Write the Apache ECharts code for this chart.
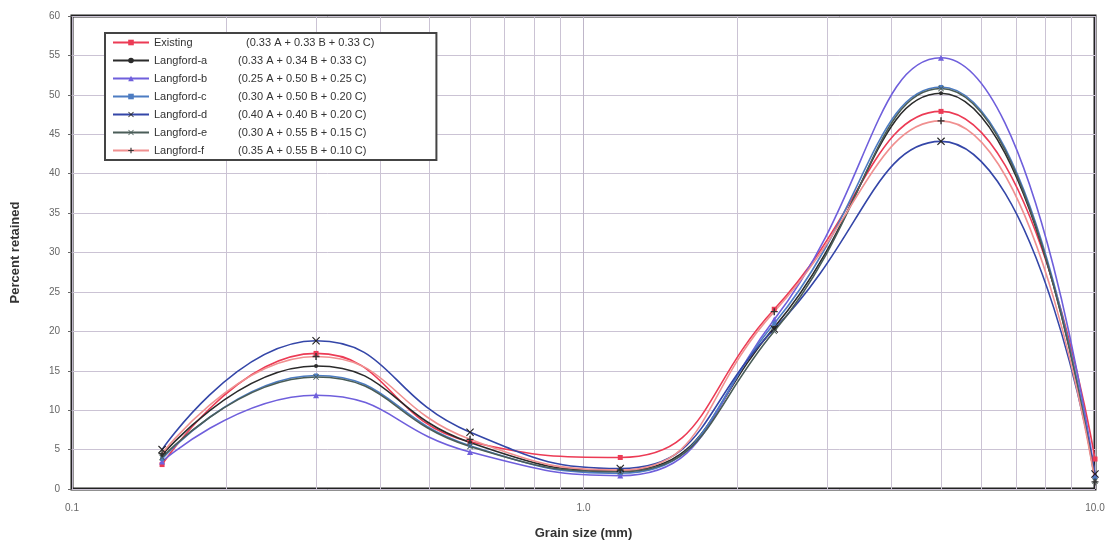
<!DOCTYPE html>
<html>
<head>
<meta charset="utf-8">
<script src="https://cdn.jsdelivr.net/npm/echarts@6/dist/echarts.min.js"></script>
<style>
  html, body { margin: 0; padding: 0; background: #fff; }
  #chart { width: 1109px; height: 546px; }
</style>
</head>
<body>
<div id="chart"></div>
<script>
// sieve sizes (mm) and percent retained for each blend
var sizes = [0.15, 0.3, 0.6, 1.18, 2.36, 5, 10];
var existing  = [3.1, 17.2, 6.0, 4.0, 22.8, 47.9, 3.8];
var langfordA = [4.3, 15.6, 5.9, 2.3, 20.5, 50.2, 1.5];
var langfordB = [3.5, 11.9, 4.7, 1.7, 21.5, 54.7, 1.8];
var langfordC = [3.8, 14.4, 5.5, 2.0, 21.0, 51.0, 1.4];
var langfordD = [5.0, 18.8, 7.2, 2.6, 20.3, 44.1, 1.9];
var langfordE = [4.0, 14.2, 5.4, 2.2, 20.0, 50.8, 1.0];
var langfordF = [4.5, 16.8, 6.3, 2.4, 22.5, 46.7, 0.9];
var mixes = [
    '(0.33 A + 0.33 B + 0.33 C)',
    '(0.33 A + 0.34 B + 0.33 C)',
    '(0.25 A + 0.50 B + 0.25 C)',
    '(0.30 A + 0.50 B + 0.20 C)',
    '(0.40 A + 0.40 B + 0.20 C)',
    '(0.30 A + 0.55 B + 0.15 C)',
    '(0.35 A + 0.55 B + 0.10 C)'
];
var names = ['Existing', 'Langford-a', 'Langford-b', 'Langford-c', 'Langford-d', 'Langford-e', 'Langford-f'];
var minorX = [0.2, 0.3, 0.4, 0.5, 0.6, 0.7, 0.8, 0.9, 2, 3, 4, 5, 6, 7, 8, 9];

var font = 'Liberation Sans, Arial, sans-serif';
var crossPath = 'path://M0,1L1,0L5,4L9,0L10,1L6,5L10,9L9,10L5,6L1,10L0,9L4,5Z';
var plusPath = 'path://M4,0H6V4H10V6H6V10H4V6H0V4H4Z';

var looks = [
    {color: '#ec3b55', symbol: 'rect', size: 5},
    {color: '#2b2b2b', symbol: 'circle', size: 4},
    {color: '#6f5fdc', symbol: 'triangle', size: 6},
    {color: '#4d7cc2', symbol: 'rect', size: 4},
    {color: '#3446a8', symbol: crossPath, size: 8, symbolColor: '#222'},
    {color: '#4a5d58', symbol: crossPath, size: 6},
    {color: '#f09090', symbol: plusPath, size: 7, symbolColor: '#333'}
];
var values = [existing, langfordA, langfordB, langfordC, langfordD, langfordE, langfordF];

var mixByName = {};
var series = [];
for (var i = 0; i < names.length; i++) {
    mixByName[names[i]] = mixes[i];
    var pts = [];
    for (var j = 0; j < sizes.length; j++) {
        pts.push([sizes[j], values[i][j]]);
    }
    series.push({
        name: names[i],
        type: 'line',
        data: pts,
        smooth: 0.5,
        symbol: looks[i].symbol,
        symbolSize: looks[i].size,
        showSymbol: true,
        lineStyle: {color: looks[i].color, width: 1.6},
        itemStyle: {color: looks[i].symbolColor || looks[i].color},
        z: 3
    });
}
// minor log grid lines
var minorData = [];
for (var k = 0; k < minorX.length; k++) {
    minorData.push({xAxis: minorX[k]});
}
series[0].markLine = {
    silent: true,
    symbol: 'none',
    label: {show: false},
    lineStyle: {color: '#cbc3d4', type: 'solid', width: 1},
    data: minorData,
    z: 1
};

var myChart = echarts.init(document.getElementById('chart'));
myChart.setOption({
    animation: false,
    backgroundColor: '#fff',
    grid: {
        left: 72, right: 14, top: 16, bottom: 57,
        show: true, borderColor: '#222', borderWidth: 3, backgroundColor: 'transparent'
    },
    legend: {
        orient: 'vertical',
        left: 105, top: 33,
        data: names,
        backgroundColor: '#fff',
        borderColor: '#444',
        borderWidth: 2,
        padding: [4, 62, 4, 7],
        itemWidth: 36, itemHeight: 7, itemGap: 7,
        formatter: function (name) {
            var key = name === 'Existing' ? 'w' : 'n';
            return '{' + key + '|' + name + '}{f|' + mixByName[name] + '}';
        },
        textStyle: {
            color: '#333', fontFamily: font, fontSize: 11,
            rich: {
                n: {width: 84, fontSize: 11, fontFamily: font, color: '#333'},
                w: {width: 92, fontSize: 11, fontFamily: font, color: '#333'},
                f: {fontSize: 11, fontFamily: font, color: '#333'}
            }
        },
        z: 10
    },
    xAxis: {
        type: 'log',
        logBase: 10,
        min: 0.1,
        max: 10,
        name: 'Grain size (mm)',
        nameLocation: 'middle',
        nameGap: 38,
        nameTextStyle: {fontFamily: font, fontSize: 13, fontWeight: 'bold', color: '#333'},
        axisLine: {show: false},
        axisTick: {show: false},
        axisLabel: {
            color: '#666', fontFamily: font, fontSize: 10, margin: 14,
            formatter: function (v) { return v.toFixed(1); }
        },
        splitLine: {show: true, lineStyle: {color: '#bfb6c9', width: 1}}
    },
    yAxis: {
        type: 'value',
        min: 0,
        max: 60,
        interval: 5,
        name: 'Percent retained',
        nameLocation: 'middle',
        nameGap: 50,
        nameRotate: 90,
        nameTextStyle: {fontFamily: font, fontSize: 13, fontWeight: 'bold', color: '#333'},
        axisLine: {show: false},
        axisTick: {show: true, length: 4, lineStyle: {color: '#666'}},
        axisLabel: {color: '#666', fontFamily: font, fontSize: 10, margin: 12},
        splitLine: {show: true, lineStyle: {color: '#cbc3d4', width: 1}}
    },
    series: series
});
</script>
</body>
</html>
